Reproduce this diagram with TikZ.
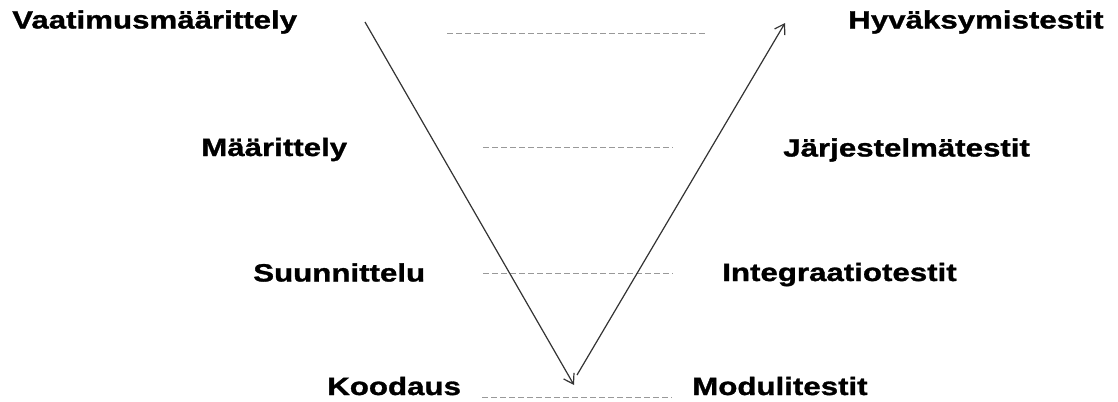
\documentclass[tikz,border=0pt]{standalone}
\usepackage{fontspec}
\setmainfont{Liberation Sans}[FakeStretch=1.25,FakeBold=1.2]
\usetikzlibrary{arrows.meta}
\begin{document}
\begin{tikzpicture}[x=0.75pt,y=-0.75pt,
  lbl/.style={anchor=base west,inner sep=0pt,font=\fontsize{18.75pt}{20pt}\selectfont\bfseries,text=black},
  guide/.style={draw=black!40,line width=0.75pt,dash pattern=on 4.5pt off 2.25pt},
  vline/.style={draw=black!80,line width=0.9pt,-{Straight Barb[length=7pt,width=9pt,line width=0.9pt]}}]
\useasboundingbox (0,0) rectangle (1118,401);
% labels
\node[lbl] (vm) at (12,28.5) {Vaatimusmäärittely};
\node[lbl] (ma) at (201,156) {Määrittely};
\node[lbl] (su) at (253,281.5) {Suunnittelu};
\node[lbl] (ko) at (327,395) {Koodaus};
\node[lbl] (hy) at (848,28.5) {Hyväksymistestit};
\node[lbl] (ja) at (783,156.5) {Järjestelmätestit};
\node[lbl] (in) at (722,281) {Integraatiotestit};
\node[lbl] (mo) at (692,395) {Modulitestit};
% guide line ends
\coordinate (g1a) at (447,33);  \coordinate (g1b) at (708,33);
\coordinate (g2a) at (483,147.5); \coordinate (g2b) at (673,147.5);
\coordinate (g3a) at (483,273); \coordinate (g3b) at (673,273);
\coordinate (g4a) at (482,397); \coordinate (g4b) at (672,397);
\draw[guide] (g1a) -- (g1b);
\draw[guide] (g2a) -- (g2b);
\draw[guide] (g3a) -- (g3b);
\draw[guide] (g4a) -- (g4b);
% V arrows
\coordinate (dtop) at (365,22);
\coordinate (dbot) at (574,385);
\coordinate (ubot) at (577,375);
\coordinate (utop) at (785,23);
\draw[vline] (dtop) -- (dbot);
\draw[vline] (ubot) -- (utop);
\end{tikzpicture}
\end{document}
